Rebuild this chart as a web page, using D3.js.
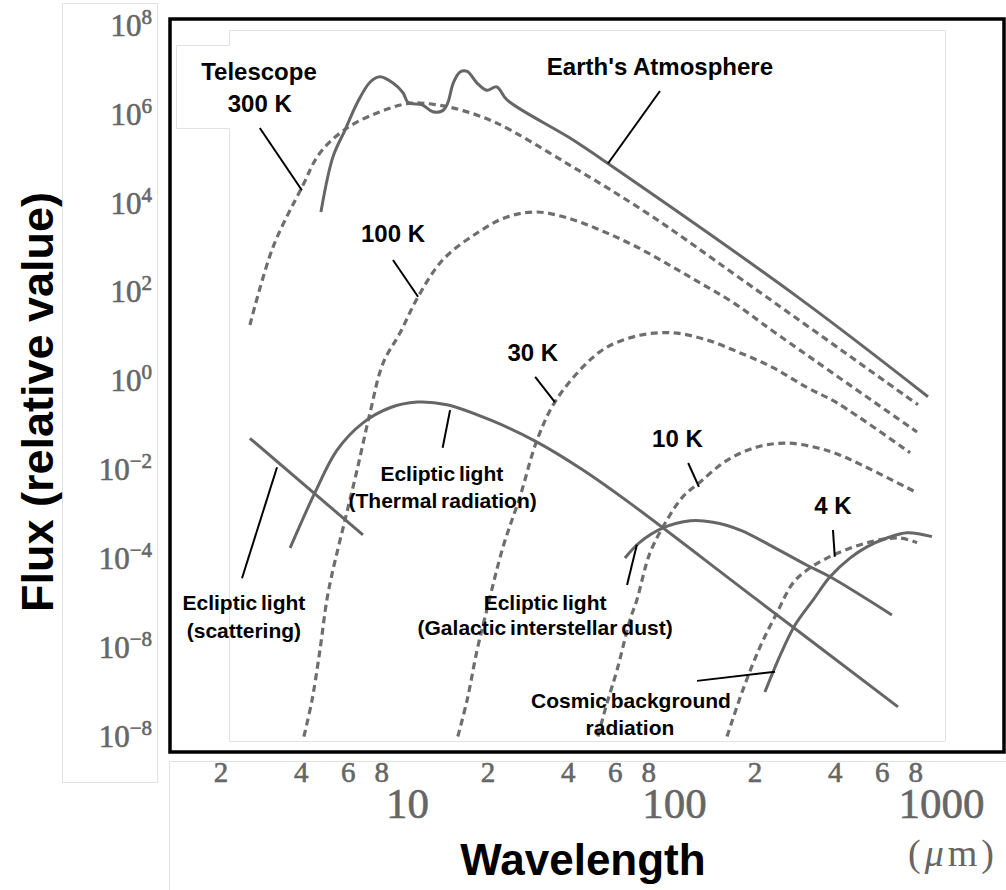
<!DOCTYPE html>
<html><head><meta charset="utf-8">
<script src="https://cdn.jsdelivr.net/npm/d3@7"></script>
<style>body{margin:0;background:#fff} svg{display:block}</style>
</head><body>
<svg id="chart" width="1006" height="890"></svg>
<script>
// ---------- axis tick data ----------
const xMinorTicks = [2,4,6,8,20,40,60,80,200,400,600,800];
const xMinorLabels = ["2","4","6","8","2","4","6","8","2","4","6","8"];
const xMajorTicks = [10,100,1000];
const xMajorLabels = ["10","100","1000"];
const yTicks = [1e8,1e6,1e4,1e2,1e0,1e-2,1e-4,1e-6,1e-8];
const yTickBase = "10";
const yTickExponents = ["8","6","4","2","0","\u22122","\u22124","\u22128","\u22128"];

// ---------- series: [wavelength (µm), flux (relative)] ----------
const atmosphere = [[4.76,8.9e3],[5.28,1.55e5],[5.86,6.2e5],[6.50,2.5e6],[7.27,7.4e6],[7.92,9.8e6],[8.86,7.1e6],[9.66,4.3e6],[10.1,2.6e6],[11.4,2.3e6],[12.5,1.6e6],[13.6,1.7e6],[14.2,2.5e6],[14.9,7.1e6],[15.8,1.26e7],[16.8,1.3e7],[18.3,7.1e6],[19.9,4.9e6],[21.7,5.8e6],[23.7,2.95e6],[40.8,4.1e5],[56.6,1.1e5],[296,1.0e2],[894,0.62]];
const telescope300K = [[2.58,25.5],[3.15,1.45e3],[4.04,3.2e4],[4.72,1.9e5],[5.96,6.9e5],[7.92,1.6e6],[10.3,2.5e6],[12.9,2.3e6],[16.2,1.7e6],[21.7,8.9e5],[40.8,1.0e5],[81.3,7.6e3],[181,2.6e2],[820,0.41]];
const blackbody100K = [[4.11,1.4e-8],[4.41,9.3e-8],[4.72,1.23e-6],[5.01,1.66e-5],[5.28,7.8e-5],[5.86,1.05e-3],[6.50,1.38e-2],[7.27,0.27],[8.13,3.5],[9.42,17],[11.0,1.1e2],[13.6,7.4e2],[18.3,3.0e3],[23.7,6.9e3],[30.7,8.9e3],[41.1,6.2e3],[54.7,3.2e3],[72.6,1.45e3],[97.5,5.4e2],[126,2.2e2],[166,83],[237,17.8],[813,0.10]];
const blackbody30K = [[15.5,1.4e-8],[16.8,9.3e-8],[18.3,1.23e-6],[19.9,9.8e-6],[22.9,2.6e-4],[26.5,3.5e-3],[30.7,6.6e-2],[35.8,0.47],[45.6,2.9],[56.1,8.1],[74.6,15],[99.2,17],[133,11.7],[177,6.0],[235,2.8],[315,1.0],[408,0.45],[766,3.4e-2]];
const blackbody10K = [[51.9,1.4e-8],[56.1,7.9e-8],[61.2,4.4e-7],[68.4,5.9e-6],[72.6,1.66e-5],[81.3,1.9e-4],[94.2,1.05e-3],[108,3.5e-3],[125,7.4e-3],[158,2.3e-2],[205,4.6e-2],[265,5.6e-2],[343,4.4e-2],[419,3.0e-2],[800,4.5e-3]];
const blackbody4K = [[158,1.4e-8],[181,1.55e-7],[210,1.45e-6],[243,8.5e-6],[279,4.0e-5],[315,7.8e-5],[374,1.45e-4],[528,3.2e-4],[702,4.1e-4],[813,3.2e-4]];
const eclipticScattering = [[2.58,7.2e-2],[6.84,4.8e-4]];
const eclipticThermal = [[3.65,2.45e-4],[4.52,4.3e-3],[5.47,3.9e-2],[6.84,0.16],[8.63,0.35],[10.9,0.47],[14.1,0.41],[20.5,0.186],[30.7,5.9e-2],[45.6,1.39e-2],[68.4,2.5e-3],[205,1.66e-5],[690,6.5e-8]];
const galacticDust = [[65.5,1.45e-4],[74.6,3.3e-4],[91.0,6.9e-4],[115,1.0e-3],[140,9.3e-4],[177,6.2e-4],[235,2.6e-4],[315,1.0e-4],[384,5.5e-5],[655,7.6e-6]];
const cosmicBackground = [[219,1.4e-7],[250,9.5e-7],[284,4.5e-6],[332,1.66e-5],[384,5.5e-5],[456,1.45e-4],[528,2.6e-4],[628,4.1e-4],[746,5.4e-4],[925,4.4e-4]];

// ---------- annotations (data coordinates) ----------
const labelTexts = ["Telescope","300 K","Earth's Atmosphere","100 K","30 K","10 K","4 K",
  "Ecliptic light","(Thermal radiation)","Ecliptic light","(scattering)",
  "Ecliptic light","(Galactic interstellar dust)","Cosmic background","radiation"];
const labelAnchors = [[2.79,8.3e6],[2.81,1.6e6],[88.6,1.07e7],[8.86,1.9e3],[29.6,4.0],[103,4.6e-2],[394,1.4e-3],
  [13.5,7.9e-3],[13.6,1.95e-3],[2.45,9.8e-6],[2.45,2.3e-6],
  [32.9,9.8e-6],[32.9,2.7e-6],[69.0,6.1e-8],[68.4,1.5e-8]];
const leaderLines = [
  [[2.81,6.9e5],[4.04,2.75e4]],
  [[88.6,4.7e6],[56.6,1.1e5]],
  [[8.86,7.4e2],[11.0,1.1e2]],
  [[30.2,1.73],[35.8,0.47]],
  [[113,2.0e-2],[124,5.8e-3]],
  [[394,6.2e-4],[400,1.55e-4]],
  [[14.5,0.31],[13.6,4.4e-2]],
  [[3.26,1.6e-2],[2.41,5.1e-5]],
  [[72.6,2.9e-4],[66.7,3.6e-5]],
  [[122,2.5e-7],[239,4.0e-7]]
];

// ---------- drawing ----------
const svg = d3.select("#chart");
const x = d3.scaleLog().domain([1,1000]).range([140,941]);
const y = d3.scaleLog().domain([1e-8,1e8]).range([743,32]);

const SANS = "'Liberation Sans', Arial, Helvetica, sans-serif";
const SERIF = "'Liberation Serif', 'Times New Roman', serif";
const GREY_TXT = "#666";

// faint panel borders (image compositing residue in original)
const faint = svg.append("g").attr("fill","none").attr("stroke","#e2e2e2").attr("stroke-width",1);
faint.append("rect").attr("x",62.5).attr("y",3.5).attr("width",95).attr("height",779);
faint.append("path").attr("d","M169.5,890 V761.5 H1006");
faint.append("path").attr("d","M229.5,45 V30.5 H945.5 V741.5 H229.5 V128.5 H176.5 V45.5 H229.5");

// lines
const line = d3.line().x(d => x(d[0])).y(d => y(d[1])).curve(d3.curveCatmullRom.alpha(0.5));
const plot = svg.append("g");

const dashedSeries = [telescope300K, blackbody100K, blackbody30K, blackbody10K, blackbody4K];
const solidSeries = [atmosphere, eclipticScattering, eclipticThermal, galacticDust, cosmicBackground];

plot.selectAll("path.dashed").data(dashedSeries).join("path")
  .attr("class","dashed").attr("d", line)
  .attr("fill","none").attr("stroke","#6e6e6e").attr("stroke-width",3.2)
  .attr("stroke-dasharray","7,4.5");

plot.selectAll("path.solid").data(solidSeries).join("path")
  .attr("class","solid").attr("d", line)
  .attr("fill","none").attr("stroke","#666").attr("stroke-width",3);

// leader lines
plot.selectAll("line.leader").data(leaderLines).join("line")
  .attr("class","leader")
  .attr("x1", d => x(d[0][0])).attr("y1", d => y(d[0][1]))
  .attr("x2", d => x(d[1][0])).attr("y2", d => y(d[1][1]))
  .attr("stroke","#000").attr("stroke-width",2);

// labels
const bigCount = 7;
plot.selectAll("text.lbl").data(labelTexts).join("text")
  .attr("class","lbl")
  .attr("x", (d,i) => x(labelAnchors[i][0]))
  .attr("y", (d,i) => y(labelAnchors[i][1]))
  .attr("text-anchor","middle")
  .attr("font-family", SANS).attr("font-weight","bold")
  .attr("font-size", (d,i) => i < bigCount ? 24 : 21)
  .attr("word-spacing", (d,i) => i < bigCount ? 0 : -2)
  .attr("fill","#000")
  .text(d => d);

// frame
svg.append("rect").attr("x",170).attr("y",19).attr("width",834).attr("height",733)
  .attr("fill","none").attr("stroke","#000").attr("stroke-width",3.5);

// y axis labels
const yAxisG = svg.append("g").attr("transform","translate(152,0)")
  .call(d3.axisLeft(y).tickValues(yTicks).tickSize(0).tickPadding(0).tickFormat(() => ""));
yAxisG.select(".domain").remove();
yAxisG.selectAll(".tick text").each(function(d,i){
  const t = d3.select(this);
  t.attr("x",0).attr("dy","0.33em").attr("font-family",SERIF).attr("fill",GREY_TXT)
   .attr("stroke",GREY_TXT).attr("stroke-width",0.6).attr("text-anchor","end");
  t.append("tspan").attr("font-size",31).text(yTickBase);
  t.append("tspan").attr("font-size",21).attr("dy",-12).text(yTickExponents[i]);
});

// x axis labels
const xMinorG = svg.append("g").attr("transform","translate(0,782)")
  .call(d3.axisBottom(x).tickValues(xMinorTicks).tickSize(0).tickPadding(0)
    .tickFormat((d,i) => xMinorLabels[i]));
xMinorG.select(".domain").remove();
xMinorG.selectAll(".tick text").attr("y",0).attr("dy",0)
  .attr("font-family",SERIF).attr("font-size",29).attr("fill",GREY_TXT)
  .attr("stroke",GREY_TXT).attr("stroke-width",0.6);

const xMajorG = svg.append("g").attr("transform","translate(0,818)")
  .call(d3.axisBottom(x).tickValues(xMajorTicks).tickSize(0).tickPadding(0)
    .tickFormat((d,i) => xMajorLabels[i]));
xMajorG.select(".domain").remove();
xMajorG.selectAll(".tick text").attr("y",0).attr("dy",0)
  .attr("font-family",SERIF).attr("font-size",43).attr("fill",GREY_TXT)
  .attr("stroke",GREY_TXT).attr("stroke-width",0.6);

// unit
const unit = svg.append("text").attr("x",953).attr("y",866).attr("text-anchor","middle")
  .attr("font-family",SERIF).attr("font-size",38).attr("fill",GREY_TXT).attr("letter-spacing",4);
unit.append("tspan").text("(");
unit.append("tspan").attr("font-style","italic").text("\u03bc");
unit.append("tspan").text("m)");

// axis titles
svg.append("text").attr("transform","translate(53,402) rotate(-90)")
  .attr("text-anchor","middle").attr("font-family",SANS).attr("font-weight","bold")
  .attr("font-size",45).attr("fill","#000").text("Flux (relative value)");
svg.append("text").attr("x",583).attr("y",875)
  .attr("text-anchor","middle").attr("font-family",SANS).attr("font-weight","bold")
  .attr("font-size",44).attr("fill","#000").text("Wavelength");
</script>
</body></html>
